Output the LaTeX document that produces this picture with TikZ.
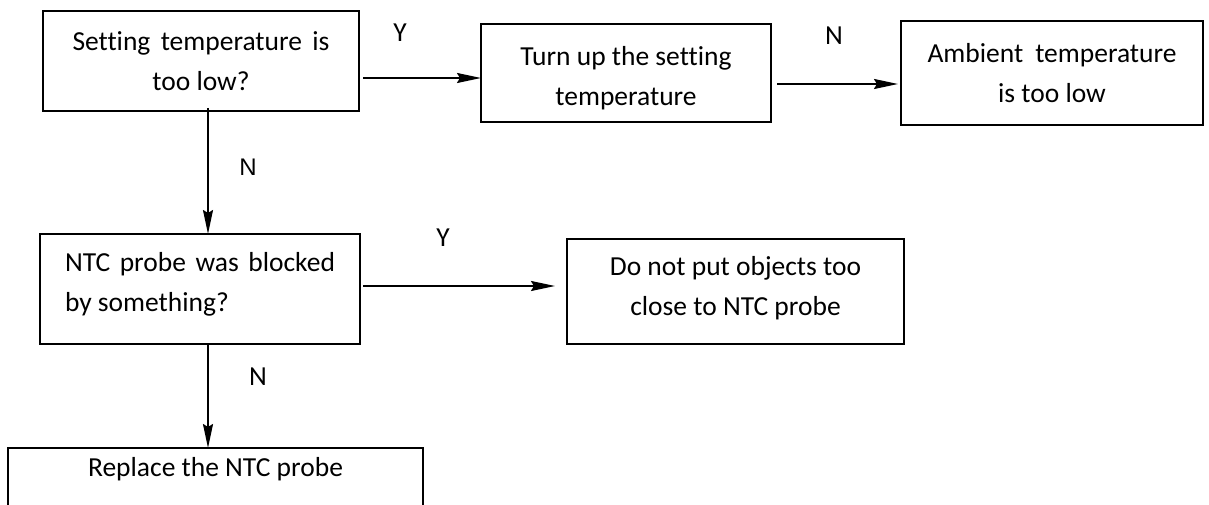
\documentclass[tikz,border=0pt]{standalone}
\usepackage{fontspec}
\setmainfont{Carlito}[Ligatures=CommonOff]
\newfontfamily\arialfont{Liberation Sans}
\usetikzlibrary{arrows.meta}
\tikzset{
  box/.style={draw=black, line width=1.8pt, inner sep=0pt, outer sep=0pt,
    font=\fontsize{27.5pt}{40pt}\selectfont},
  arr/.style={line width=2pt, -{Stealth[length=24pt,width=10pt,inset=3pt]}},
  lbl/.style={inner sep=0pt, font=\fontsize{27.5pt}{33pt}\selectfont},
}
\begin{document}
\begin{tikzpicture}[x=1pt,y=-1pt]
\useasboundingbox (0,0) rectangle (1209,505);
\clip (0,0) rectangle (1209,505);
\fill[white] (0,0) rectangle (1209,505);

\node[box, minimum width=316pt, minimum height=100pt, align=center] (b1) at (201,61)
  {\makebox[257pt][s]{Setting temperature is}\\too low?};
\node[box, minimum width=290pt, minimum height=98pt, align=center] (b2) at (626,73)
  {\rule{0pt}{29pt}Turn up the setting\\temperature};
\node[box, minimum width=302pt, minimum height=104pt, align=center] (b3) at (1052,73)
  {\makebox[249pt][s]{Ambient temperature}\\is too low};
\node[box, minimum width=320pt, minimum height=110pt, align=left, text depth=14pt] (b4) at (200,289)
  {\makebox[270pt][s]{NTC probe was blocked}\\by something?};
\node[box, minimum width=337pt, minimum height=105pt, align=center, text depth=11pt] (b5) at (735.5,291.5)
  {Do not put objects too\\close to NTC probe};
\node[box, minimum width=415pt, minimum height=100pt, text height=28.5pt, text depth=71.5pt] (b6) at (215.5,498)
  {Replace the NTC probe};

\draw[arr, shorten <=4pt] ([yshift=-17pt]b1.east) -- ([yshift=-5pt]b2.west);
\draw[arr, shorten <=6pt, shorten >=3pt] ([yshift=-11pt]b2.east) -- ([yshift=-11pt]b3.west);
\draw[arr, shorten <=3pt, shorten >=12pt] ([yshift=3pt]b4.east) -- ([yshift=5.5pt]b5.west);
\draw[arr, shorten <=-3pt] ([xshift=7pt]b1.south) -- ([xshift=8pt]b4.north);
\draw[arr] ([xshift=8pt]b4.south) -- ([xshift=-7.5pt]b6.north);

\node[lbl] (ly1) at (400,33) {Y};
\node[lbl] (ln1) at (834,36) {N};
\node[lbl] (ly2) at (443,238) {Y};
\node[lbl, font=\arialfont\fontsize{24pt}{28pt}\selectfont] (ln2) at (248,167) {N};
\node[lbl] (ln3) at (258,377) {N};
\end{tikzpicture}
\end{document}
